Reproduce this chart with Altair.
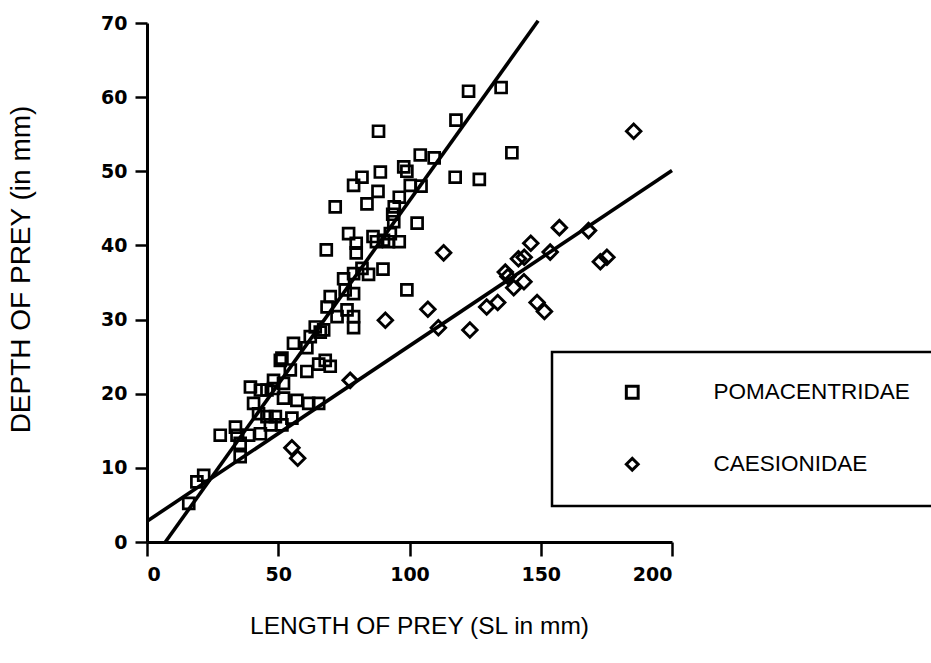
import altair as alt
import pandas as pd

# Pomacentridae (squares): length (SL, mm), depth (mm)
pom_x = [122.5, 134.9, 117.7, 88.2, 139.0, 104.1, 109.4, 97.8, 99.0, 88.9, 81.9, 78.7, 88.0, 100.3,
         104.4, 117.4, 126.6, 83.8, 71.7, 96.1, 94.2, 93.6, 102.9, 94.0, 92.7, 76.8, 79.7, 86.1, 87.4,
         90.1, 92.0, 96.1, 68.3, 79.7, 89.9, 84.4, 81.9, 78.7, 74.9, 99.0, 69.8, 78.7, 75.5, 68.6, 72.4,
         78.7, 78.7, 76.2, 64.1, 67.3, 62.2, 55.8, 60.9, 51.4, 67.9, 60.9, 65.4, 69.8, 50.8, 54.6, 48.2,
         52.0, 45.7, 66.0, 39.4, 43.2, 48.2, 52.0, 57.1, 61.6, 65.4, 40.6, 42.5, 45.7, 48.9, 51.4, 55.2,
         47.0, 43.2, 38.7, 34.3, 27.9, 33.7, 35.5, 35.5, 21.6, 19.0, 15.9]
pom_y = [60.8, 61.3, 56.9, 55.4, 52.5, 52.2, 51.8, 50.6, 50.0, 49.9, 49.2, 48.1, 47.3, 48.1,
         48.0, 49.2, 48.9, 45.6, 45.2, 46.5, 45.2, 44.2, 43.0, 43.2, 41.6, 41.6, 40.3, 41.2, 40.5,
         40.7, 40.5, 40.5, 39.4, 39.0, 36.8, 36.1, 36.9, 36.2, 35.5, 34.0, 33.1, 33.5, 34.0, 31.7, 30.4,
         30.4, 28.9, 31.3, 29.0, 28.6, 27.7, 26.8, 26.2, 24.8, 24.5, 23.0, 24.0, 23.7, 24.5, 23.2, 21.8,
         21.4, 20.5, 28.3, 20.9, 20.5, 20.7, 19.4, 19.1, 18.7, 18.7, 18.7, 17.3, 16.9, 16.9, 15.8, 16.7,
         15.8, 14.6, 14.4, 14.4, 14.4, 15.5, 13.3, 11.5, 9.0, 8.1, 5.2]

# Caesionidae (diamonds)
cae_x = [55.2, 57.4, 77.4, 90.8, 107.0, 111.0, 113.0, 123.0, 129.4, 133.6, 136.5, 137.5, 139.7, 143.6,
         141.5, 143.7, 146.2, 148.6, 151.4, 153.6, 157.1, 168.2, 172.7, 175.2, 185.4]
cae_y = [12.7, 11.3, 21.8, 29.9, 31.4, 28.9, 39.0, 28.6, 31.7, 32.3, 36.4, 35.8, 34.3, 35.1,
         38.2, 38.4, 40.3, 32.3, 31.1, 39.1, 42.4, 42.0, 37.8, 38.4, 55.4]

# Fitted lines (end points)
pom_line_x = [7.0, 149.0]
pom_line_y = [0.0, 70.3]
cae_line_x = [0.0, 200.0]
cae_line_y = [2.8, 50.1]

groups = ["POMACENTRIDAE", "CAESIONIDAE"]

pom = pd.DataFrame({"x": pom_x, "y": pom_y, "g": groups[0]})
cae = pd.DataFrame({"x": cae_x, "y": cae_y, "g": groups[1]})
lines = pd.concat([
    pd.DataFrame({"x": pom_line_x, "y": pom_line_y, "g": groups[0]}),
    pd.DataFrame({"x": cae_line_x, "y": cae_line_y, "g": groups[1]}),
])

xs = alt.Scale(domain=[0, 200], nice=False, zero=False)
ys = alt.Scale(domain=[0, 70], nice=False, zero=False)

xax = alt.Axis(values=[0, 50, 100, 150, 200], title="LENGTH OF PREY (SL in mm)", grid=False,
               tickSize=14, labelPadding=9, titleFontSize=24.5, titlePadding=30, titleX=272)
yax = alt.Axis(values=[0, 10, 20, 30, 40, 50, 60, 70], title="DEPTH OF PREY (in mm)", grid=False,
               tickSize=12, labelPadding=8, titleFontSize=28, titlePadding=65, titleY=246)

shape_enc = alt.Shape("g:N", scale=alt.Scale(domain=groups, range=["square", "diamond"]),
                      legend=alt.Legend(title=None, orient="none", legendX=405, legendY=329,
                                        strokeColor="black", padding=29, symbolOffset=40,
                                        labelOffset=70, rowPadding=47, labelLimit=0))

line_layer = alt.Chart(lines).mark_line(color="black", strokeWidth=3.6, clip=False).encode(
    x=alt.X("x:Q", scale=xs, axis=xax),
    y=alt.Y("y:Q", scale=ys, axis=yax),
    detail="g:N",
)

pom_layer = alt.Chart(pom).mark_point(filled=False, color="black", strokeWidth=2.7, size=120, opacity=1).encode(
    x=alt.X("x:Q", scale=xs, axis=xax),
    y=alt.Y("y:Q", scale=ys, axis=yax),
    shape=shape_enc,
)

cae_layer = alt.Chart(cae).mark_point(filled=False, color="black", strokeWidth=2.9, size=210, opacity=1).encode(
    x=alt.X("x:Q", scale=xs, axis=xax),
    y=alt.Y("y:Q", scale=ys, axis=yax),
    shape=shape_enc,
)

chart = alt.layer(line_layer, pom_layer, cae_layer).properties(
    width=525, height=519,
    autosize="none",
    padding={"left": 147, "top": 23, "right": 259, "bottom": 121},
    background="white",
).configure_view(stroke=None).configure_axis(
    domainColor="black", domainWidth=3, tickColor="black", tickWidth=2.5,
    labelFont="DejaVu Sans", labelFontWeight="bold", labelFontSize=19, labelColor="black",
    titleFont="Liberation Sans", titleFontWeight="normal", titleColor="black",
).configure_legend(
    labelFont="Liberation Sans", labelFontSize=22.5, labelColor="black", symbolSize=140,
    symbolStrokeWidth=3, symbolStrokeColor="black", strokeWidth=2.5,
)

chart.save("out.html", embed_options={"renderer": "svg", "actions": False})
